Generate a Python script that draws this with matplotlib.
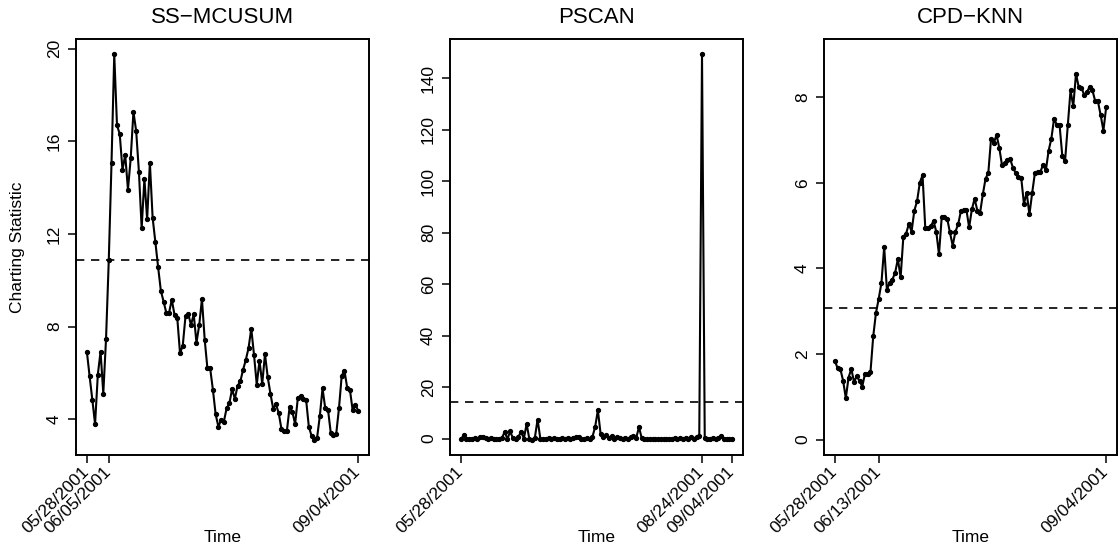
import numpy as np
import pandas as pd
import matplotlib
matplotlib.use('Agg')
import matplotlib.pyplot as plt
from matplotlib.transforms import ScaledTranslation

plt.rcParams['font.family'] = ['Liberation Sans', 'DejaVu Sans']

# daily charting statistics, 05/28/2001 - 09/04/2001
start = '2001-05-28'
n_days = 100

ss_mcusum = [6.92, 5.86, 4.84, 3.79, 5.92, 6.92, 5.11, 7.47, 10.87, 15.07,
             19.75, 16.69, 16.31, 14.77, 15.41, 13.91, 15.26, 17.27, 16.44, 14.68,
             12.25, 14.38, 12.63, 15.07, 12.70, 11.65, 10.57, 9.55, 9.08, 8.59,
             8.60, 9.16, 8.50, 8.36, 6.85, 7.18, 8.45, 8.55, 8.07, 8.53,
             7.30, 8.06, 9.19, 7.44, 6.19, 6.19, 5.27, 4.21, 3.68, 3.97,
             3.90, 4.47, 4.68, 5.30, 4.88, 5.44, 5.63, 6.13, 6.56, 7.07,
             7.91, 6.78, 5.49, 6.53, 5.53, 6.81, 5.82, 5.10, 4.45, 4.65,
             4.27, 3.59, 3.50, 3.50, 4.54, 4.32, 3.79, 4.93, 5.00, 4.88,
             4.85, 3.68, 3.28, 3.12, 3.19, 4.12, 5.33, 4.47, 4.41, 3.42,
             3.30, 3.37, 4.47, 5.88, 6.10, 5.36, 5.27, 4.38, 4.63, 4.37]

pscan = [-0.3, 1.2, 0.0, -0.2, -0.1, 0.2, -0.3, 0.5, 0.8, 0.3,
         -0.2, 0.4, -0.1, -0.3, 0.0, 0.3, 2.6, -0.2, 2.8, 0.1,
         -0.3, 0.8, 2.6, 0.0, 5.7, -0.2, -0.4, 0.3, 7.4, 0.0,
         -0.3, -0.1, 0.2, -0.2, 0.1, -0.3, 0.0, 0.4, -0.1, 0.3,
         -0.2, 0.1, 0.5, 0.8, -0.1, -0.3, 0.4, 0.0, 0.6, 4.5,
         11.0, 1.8, 0.8, 1.2, 0.2, 0.9, -0.2, 0.6, 0.1, -0.3,
         0.2, -0.1, 0.7, 1.1, 0.3, 4.4, 0.2, -0.2, -0.1, -0.3,
         -0.2, 0.0, -0.3, -0.1, -0.2, 0.0, -0.3, -0.1, 0.2, -0.2,
         0.1, -0.3, 0.4, 0.0, 0.5, -0.1, 0.8, 0.9, 149.2, 0.3,
         0.0, -0.2, 0.1, 0.0, 0.2, 0.9, -0.1, 0.0, -0.2, 0.0]

cpd_knn = [1.84, 1.67, 1.65, 1.38, 0.97, 1.45, 1.65, 1.35, 1.48, 1.37,
           1.24, 1.54, 1.54, 1.58, 2.41, 2.96, 3.29, 3.66, 4.50, 3.50,
           3.67, 3.74, 3.90, 4.22, 3.79, 4.74, 4.81, 5.04, 4.86, 5.35,
           5.57, 6.00, 6.18, 4.94, 4.94, 4.98, 5.11, 4.86, 4.33, 5.20,
           5.20, 5.16, 4.84, 4.53, 4.86, 5.03, 5.34, 5.37, 5.37, 4.96,
           5.38, 5.63, 5.35, 5.30, 5.73, 6.10, 6.23, 7.03, 6.93, 7.12,
           6.82, 6.41, 6.46, 6.54, 6.55, 6.35, 6.23, 6.13, 6.12, 5.51,
           5.77, 5.26, 5.76, 6.23, 6.26, 6.26, 6.42, 6.29, 6.75, 7.03,
           7.50, 7.35, 7.35, 6.63, 6.50, 7.34, 8.16, 7.79, 8.55, 8.23,
           8.22, 8.05, 8.12, 8.25, 8.16, 7.91, 7.90, 7.58, 7.22, 7.76]

titles = ['SS\u2212MCUSUM', 'PSCAN', 'CPD\u2212KNN']
thresholds = [10.87, 14.1, 3.08]
tick_dates = [['2001-05-28', '2001-06-05', '2001-09-04'],
              ['2001-05-28', '2001-08-24', '2001-09-04'],
              ['2001-05-28', '2001-06-13', '2001-09-04']]
yticks = [[4, 8, 12, 16, 20],
          [0, 20, 40, 60, 80, 100, 120, 140],
          [0, 2, 4, 6, 8]]

days = pd.date_range(start, periods=n_days, freq='D')
series = [ss_mcusum, pscan, cpd_knn]

fig = plt.figure(figsize=(11.19, 5.5), dpi=100)
lefts = [76, 450, 824]
# nudge the slanted date labels so their ends sit just right of the ticks
shift = ScaledTranslation(4 / 72, -3 / 72, fig.dpi_scale_trans)
for i in range(3):
    ax = fig.add_axes([lefts[i] / 1119, 95 / 550, 293 / 1119, 416 / 550])
    ax.plot(days, series[i], color='black', lw=1.5, marker='o', ms=2.8)
    ax.axhline(thresholds[i], color='black', lw=1.2, ls=(0, (5, 4)))
    ax.margins(x=0.04, y=0.04)
    if i == 2:
        ax.set_ylim(-0.36, 9.36)

    td = pd.to_datetime(tick_dates[i])
    ax.set_xticks(td)
    ax.set_xticklabels([d.strftime('%m/%d/%Y') for d in td], rotation=45,
                       ha='right', va='center', rotation_mode='anchor',
                       fontsize=12.5)
    for lab in ax.get_xticklabels():
        lab.set_transform(lab.get_transform() + shift)
    ax.set_yticks(yticks[i])
    ax.set_yticklabels([str(v) for v in yticks[i]], rotation=90, va='center',
                       fontsize=12.5)
    ax.tick_params(axis='both', length=6, width=1.1, pad=4)
    for s in ax.spines.values():
        s.set_linewidth(1.4)

    ax.set_title(titles[i], fontsize=16, pad=11.5)
    ax.set_xlabel('Time', fontsize=12.5)
    ax.xaxis.set_label_coords(0.5, -0.18)
    if i == 0:
        ax.set_ylabel('Charting Statistic', fontsize=12.5)
        ax.yaxis.set_label_coords(-0.175, 0.5)

fig.savefig('out.png', dpi=100)
